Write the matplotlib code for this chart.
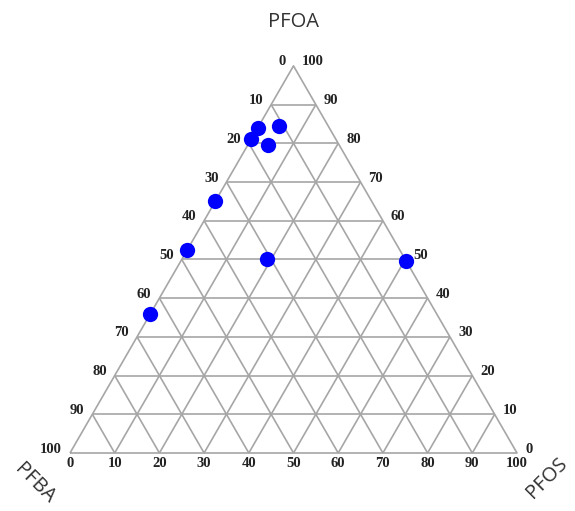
import numpy as np
import matplotlib
matplotlib.use("Agg")
import matplotlib.pyplot as plt

# composition of each sample, in percent (PFOA + PFOS + PFBA = 100)
pfoa = [84, 81, 84.5, 79.5, 65, 52.5, 50, 49.5, 36]
pfos = [0, 0, 4.5, 4.5, 0, 0, 19, 50.5, 0]
pfba = [100 - a - s for a, s in zip(pfoa, pfos)]

ticks = list(range(0, 101, 10))
tick_labels = [str(t) for t in ticks]

H = np.sqrt(3) / 2


def to_xy(a, s):
    # PFOA at the top corner, PFOS at bottom right, PFBA at bottom left
    a = np.asarray(a, dtype=float)
    s = np.asarray(s, dtype=float)
    return s + a / 2, a * H


fig = plt.figure(figsize=(5.75, 5.11), dpi=100)
ax = fig.add_axes([0, 0, 1, 1])
k = 4.47  # pixels per percent
ax.set_xlim(-70 / k, (575 - 70) / k)
ax.set_ylim(-(511 - 453) / k, 453 / k)
ax.axis("off")

grid_kw = dict(color="#a6a6a6", lw=1.2, zorder=1, solid_capstyle="butt")

# grid lines every 10 % along the three components
for v in ticks[1:-1]:
    # constant PFOA
    x, y = to_xy([v, v], [0, 100 - v])
    ax.plot(x, y, **grid_kw)
    # constant PFOS
    x, y = to_xy([0, 100 - v], [v, v])
    ax.plot(x, y, **grid_kw)
    # constant PFBA
    x, y = to_xy([0, 100 - v], [100 - v, 0])
    ax.plot(x, y, **grid_kw)

# outline
x, y = to_xy([0, 0, 100, 0], [0, 100, 0, 0])
ax.plot(x, y, **grid_kw)

lab_kw = dict(family="Liberation Serif", weight="bold", fontsize=10.5, color="#222222")
px = 1 / k
for v, t in zip(ticks, tick_labels):
    # bottom axis: PFOS
    x, y = to_xy(0, v)
    ax.text(x, y - 3.5 * px, t, ha="center", va="top", **lab_kw)
    # right side: PFOA
    x, y = to_xy(v, 100 - v)
    ax.text(x + 8 * px, y + 4 * px, t, ha="left", va="center", **lab_kw)
    # left side: PFBA
    x, y = to_xy(100 - v, 0)
    ax.text(x - 8 * px, y + 4 * px, t, ha="right", va="center", **lab_kw)

title_kw = dict(family="Open Sans", fontsize=14.5, color="#333333")
x, y = to_xy(100, 0)
ax.text(x, y + 44 * px, "PFOA", ha="center", va="center", **title_kw)
x, y = to_xy(0, 0)
ax.text(x - 35 * px, y - 31 * px, "PFBA", ha="center", va="center", rotation=-45, **title_kw)
x, y = to_xy(0, 100)
ax.text(x + 30 * px, y - 25 * px, "PFOS", ha="center", va="center", rotation=45, **title_kw)

# samples
x, y = to_xy(pfoa, pfos)
ax.plot(x, y, "o", color="#0000ff", ms=11, mec="none", zorder=3, clip_on=False)

fig.savefig("out.png", dpi=100, facecolor="white")
